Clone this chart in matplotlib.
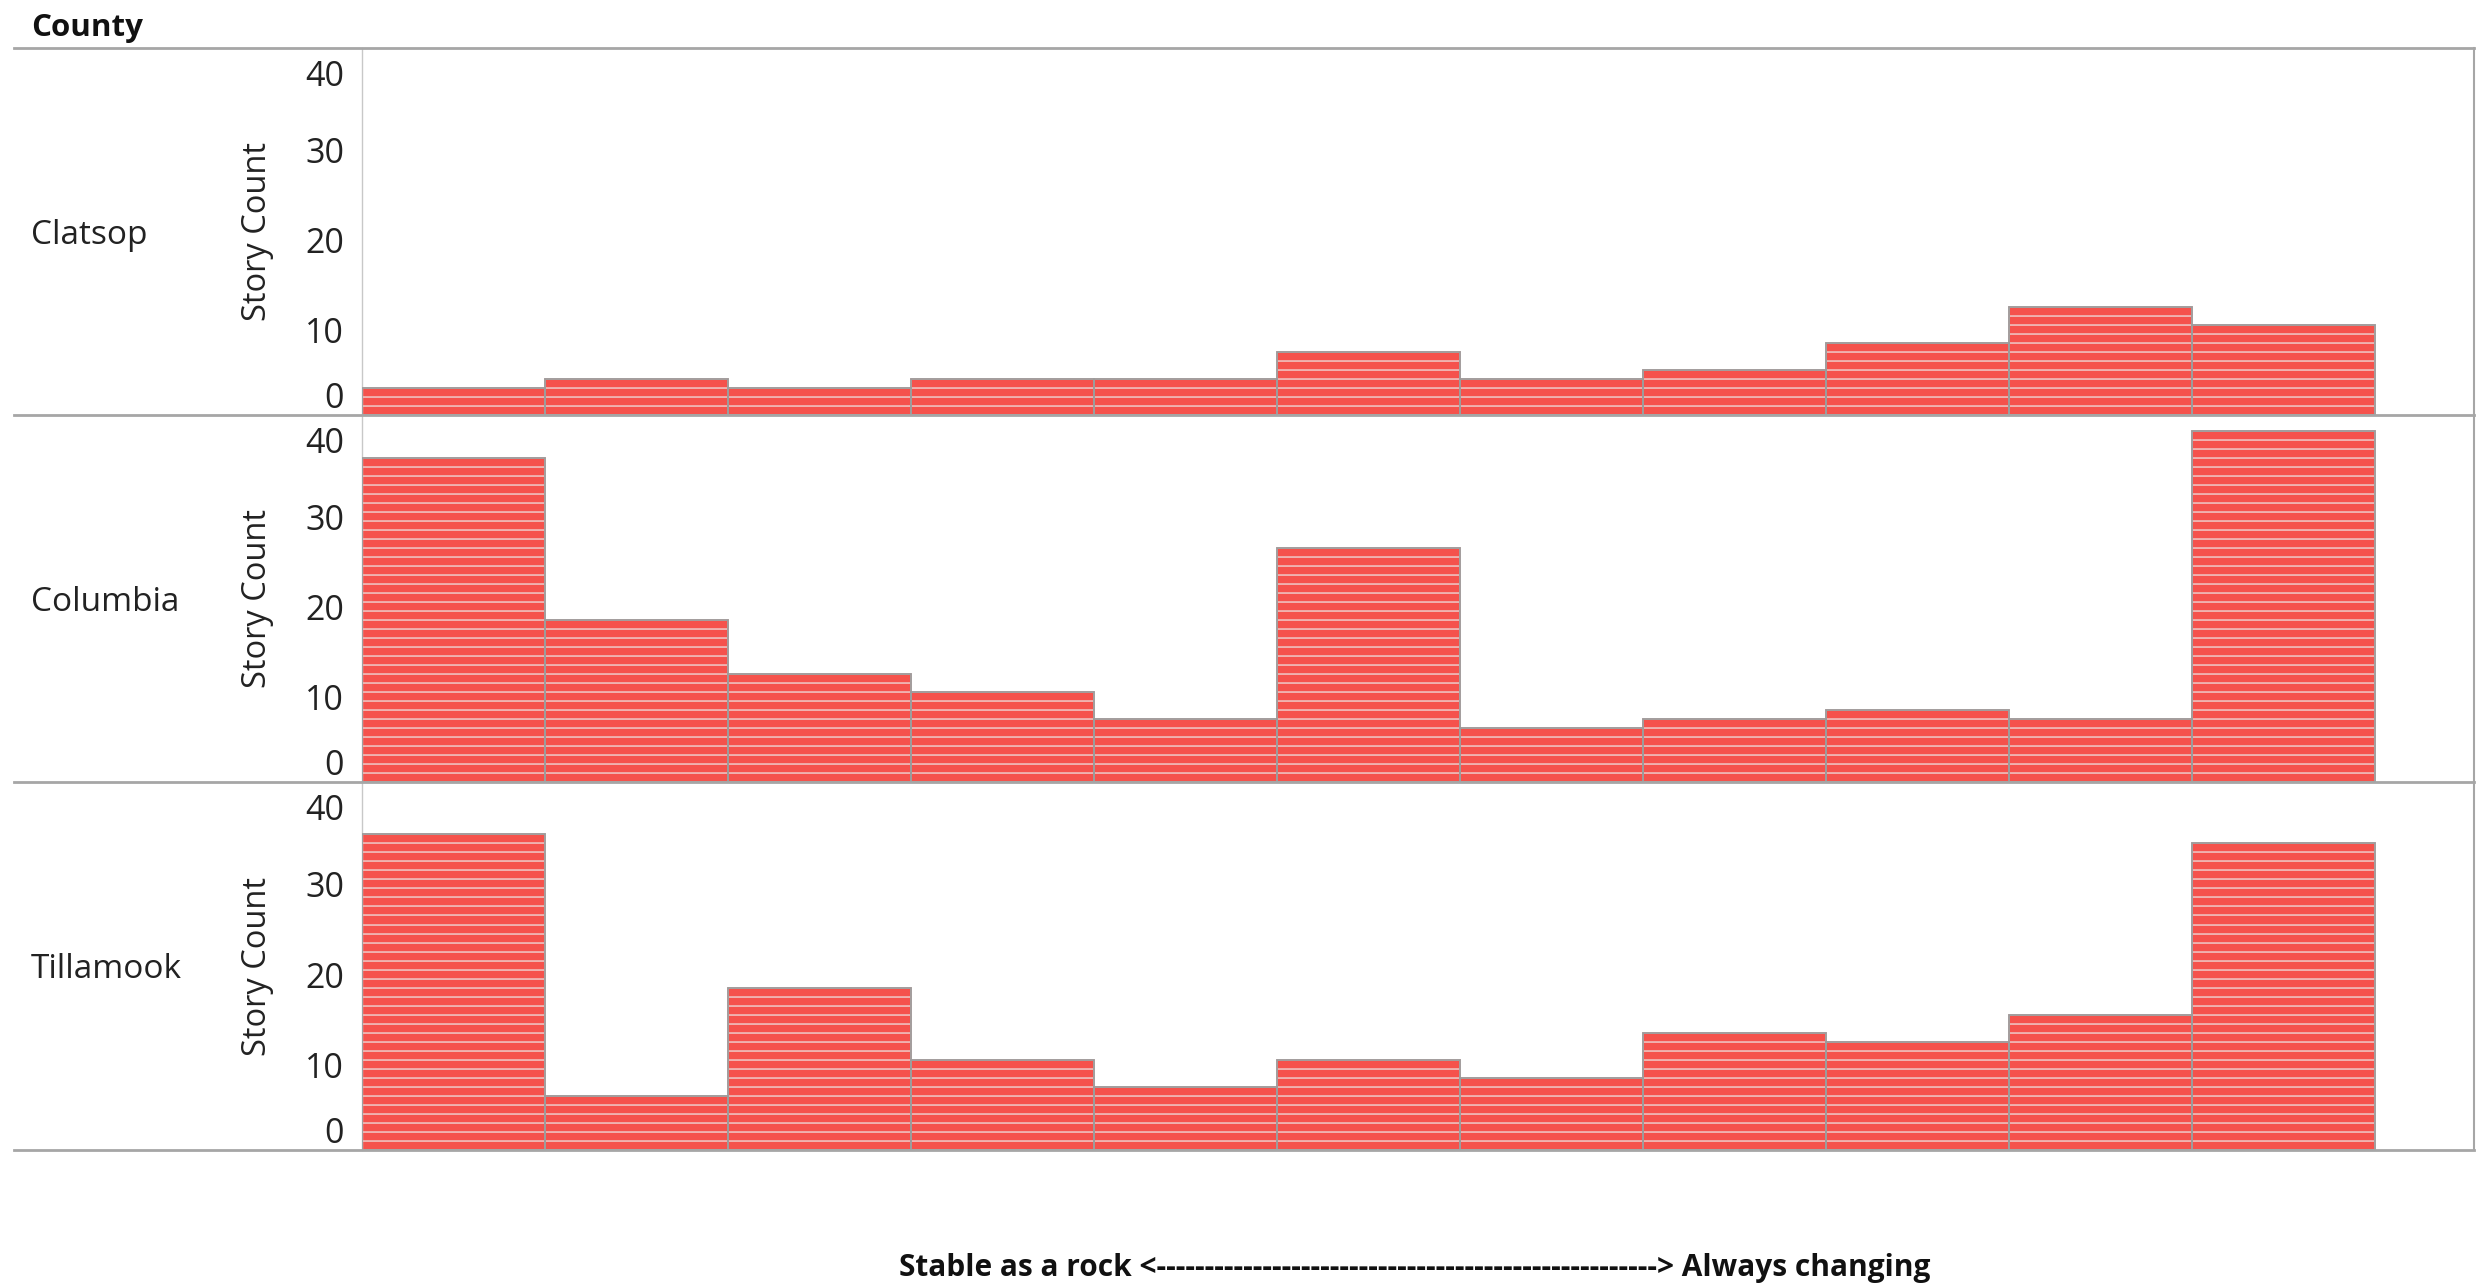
import numpy as np
import matplotlib
matplotlib.use("Agg")
import matplotlib.pyplot as plt
from matplotlib.lines import Line2D
from matplotlib.transforms import ScaledTranslation

# ---- data ----
counties = ["Clatsop", "Columbia", "Tillamook"]
bins = list(range(11))
clatsop_counts = [3, 4, 3, 4, 4, 7, 4, 5, 8, 12, 10]
columbia_counts = [36, 18, 12, 10, 7, 26, 6, 7, 8, 7, 39]
tillamook_counts = [35, 6, 18, 10, 7, 10, 8, 13, 12, 15, 34]
y_ticks = [0, 10, 20, 30, 40]
row_header = "County"
y_title = "Story Count"
x_title = "Stable as a rock <" + "-" * 52 + "> Always changing"

series = [clatsop_counts, columbia_counts, tillamook_counts]

W, H = 2478, 1283
DPI = 100
plt.rcParams['font.family'] = ['Open Sans', 'DejaVu Sans']
fig = plt.figure(figsize=(W / DPI, H / DPI), dpi=DPI)

RED = "#f5524c"
STRIPE = "#efb3b0"
GRID = "#a6a6a6"

left_px, right_px = 362, 2474
row_edges = [48, 415, 782, 1150]

def fx(px):
    return px / W

def fy(py):
    return 1 - py / H

for i, (name, counts) in enumerate(zip(counties, series)):
    top, bot = row_edges[i], row_edges[i + 1]
    ax = fig.add_axes([fx(left_px), fy(bot), fx(right_px - left_px), (bot - top) / H])
    counts = np.asarray(counts)
    idx = np.asarray(bins)
    # unit rectangles (one per story)
    xs = np.repeat(idx, counts)
    bottoms = np.concatenate([np.arange(c) for c in counts])
    ax.bar(xs, 1, bottom=bottoms, width=1.0, color=RED, edgecolor=STRIPE,
           linewidth=1.3, align="center", zorder=2)
    # outline of full bars
    ax.bar(idx, counts, width=1.0, fill=False, edgecolor="#9c9c9c",
           linewidth=1.3, zorder=3)
    ax.set_xlim(-0.5, 11.04)
    ax.set_ylim(0, 40.8)
    ax.set_xticks([])
    ax.set_yticks(y_ticks)
    ax.set_yticklabels([str(t) for t in y_ticks])
    ax.tick_params(axis="y", length=0, pad=13, labelsize=24.5, labelcolor="#222222")
    for t, lab in zip(y_ticks, ax.get_yticklabels()):
        dy = -5
        if t == 0:
            dy = 20
        elif t == 40:
            dy = -18
        lab.set_transform(lab.get_transform() + ScaledTranslation(0, dy / DPI, fig.dpi_scale_trans))
    ax.set_ylabel(y_title, fontsize=23.5, color="#222222")
    ax.yaxis.set_label_coords((274 - left_px) / (right_px - left_px), 0.5)
    for s in ["top", "bottom"]:
        ax.spines[s].set_visible(False)
    ax.spines["left"].set_color("#c8c8c8")
    ax.spines["left"].set_linewidth(1.0)
    ax.spines["right"].set_color(GRID)
    ax.spines["right"].set_linewidth(1.5)
    ax.set_facecolor("white")
    fig.text(fx(31), fy((top + bot) / 2 + 4), name, fontsize=24, color="#222222",
             ha="left", va="center")

# separator lines across the table
for y in row_edges:
    fig.add_artist(Line2D([fx(14), fx(right_px)], [fy(y), fy(y)], color=GRID,
                          linewidth=2.0, transform=fig.transFigure))

fig.text(fx(31), fy(28), row_header, fontsize=22.5, fontweight="bold",
         color="#111111", ha="left", va="center")
fig.text(fx(1415), fy(1268), x_title, fontsize=21.5, fontweight="bold",
         color="#111111", ha="center", va="center")

fig.savefig("out.png", dpi=DPI, facecolor="white")
